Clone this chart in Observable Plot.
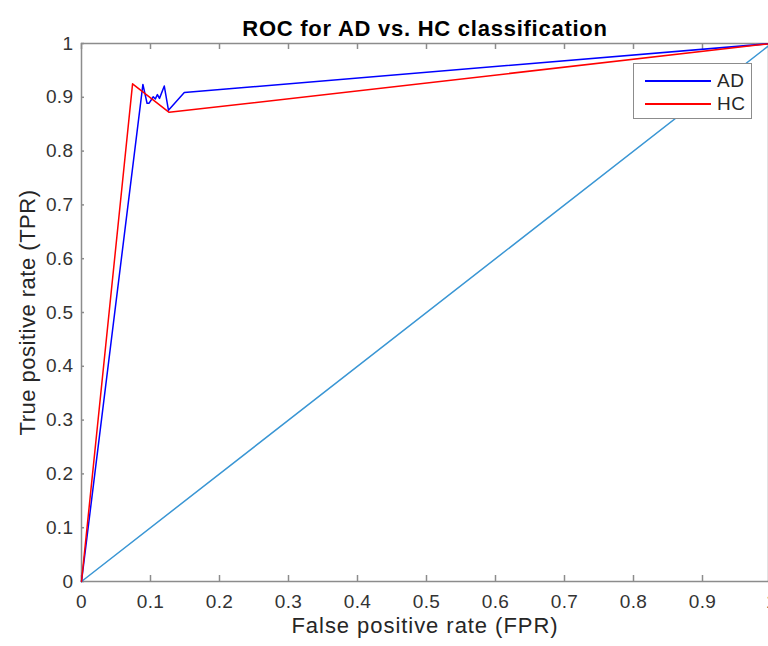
<!DOCTYPE html>
<html>
<head>
<meta charset="utf-8">
<script src="https://cdn.jsdelivr.net/npm/d3@7"></script>
<script src="https://cdn.jsdelivr.net/npm/@observablehq/plot@0.6"></script>
<style>
  html, body { margin: 0; padding: 0; overflow: hidden; background: #fff; }
  #wrap { position: relative; width: 768px; height: 646px; }
  #legend { position: absolute; left: 633px; top: 63px; width: 117px; height: 54px;
    border: 1.5px solid #8c8c8c; background: #fff; font-family: "Liberation Sans", Arial, sans-serif;
    font-size: 19px; color: #262626; letter-spacing: 0.5px; }
  #legend .row { position: absolute; left: 11px; height: 20px; display: flex; align-items: center; }
  #legend .sw { width: 66px; height: 0; border-top: 2px solid; margin-right: 6px; }
  .lblx text { letter-spacing: 0.95px; }
  .lbly text { letter-spacing: 0.5px; }
  .ttl text { letter-spacing: 0.75px; }
  .tk text { letter-spacing: 0.4px; }
</style>
</head>
<body>
<div id="wrap"></div>
<script>
const title = "ROC for AD vs. HC classification";
const xLabel = "False positive rate (FPR)";
const yLabel = "True positive rate (TPR)";
const ticks = [0, 0.1, 0.2, 0.3, 0.4, 0.5, 0.6, 0.7, 0.8, 0.9, 1];

const fprAD = [0, 0.089, 0.095, 0.098, 0.104, 0.107, 0.110, 0.113, 0.120, 0.126, 0.149, 1];
const tprAD = [0, 0.924, 0.889, 0.889, 0.901, 0.897, 0.905, 0.898, 0.921, 0.876, 0.909, 1];
const fprHC = [0, 0.074, 0.127, 1];
const tprHC = [0, 0.925, 0.872, 1];
const fprChance = [0, 1];
const tprChance = [0, 1];

const seriesNames = ["AD", "HC"];
const seriesColors = ["#0000ff", "#ff0000"];
const chanceColor = "#3a96d4";

const toRows = (xs, ys) => xs.map((x, i) => ({x, y: ys[i]}));
const ad = toRows(fprAD, tprAD);
const hc = toRows(fprHC, tprHC);
const chance = toRows(fprChance, tprChance);

const W = 768, H = 646;
const mL = 81, mT = 43, mB = 65;
const x0 = mL, x1 = 771;
const frameW = x1 - x0, frameH = H - mT - mB;
const axisColor = "#8c8c8c";
const font = "'Liberation Sans', Arial, sans-serif";
const fmt = d => String(Math.round(d * 10) / 10);

const chart = Plot.plot({
  width: W, height: H,
  marginLeft: mL, marginTop: mT, marginBottom: mB, marginRight: 0,
  x: {domain: [0, 1], range: [x0, x1]},
  y: {domain: [0, 1]},
  style: {fontFamily: font, background: "#fff", overflow: "visible"},
  marks: [
    Plot.frame({stroke: axisColor, strokeWidth: 1.5}),
    Plot.tickX(ticks, {x: d => d, stroke: axisColor, strokeWidth: 1.5, insetTop: frameH - 6}),
    Plot.tickX(ticks, {x: d => d, stroke: axisColor, strokeWidth: 1.5, insetBottom: frameH - 6}),
    Plot.tickY(ticks, {y: d => d, stroke: axisColor, strokeWidth: 1.5, insetRight: frameW - 6}),
    Plot.axisX(ticks, {tickSize: 0, tickPadding: 13, tickFormat: fmt, fontSize: 19, fill: "#333", label: null, className: "tk"}),
    Plot.axisY(ticks, {tickSize: 0, tickPadding: 8, tickFormat: fmt, fontSize: 19, fill: "#333", label: null, className: "tk"}),
    Plot.line(chance, {x: "x", y: "y", stroke: chanceColor, strokeWidth: 1.5}),
    Plot.line(ad, {x: "x", y: "y", stroke: seriesColors[0], strokeWidth: 1.5}),
    Plot.line(hc, {x: "x", y: "y", stroke: seriesColors[1], strokeWidth: 1.5}),
    Plot.text([title], {text: d => d, frameAnchor: "top", dy: -23, fontSize: 22, fontWeight: "bold", fill: "#000", className: "ttl"}),
    Plot.text([xLabel], {text: d => d, frameAnchor: "bottom", dy: 51, fontSize: 22, fill: "#262626", className: "lblx"}),
    Plot.text([yLabel], {text: d => d, frameAnchor: "left", textAnchor: "middle", dx: -54, rotate: -90, fontSize: 22, fill: "#262626", className: "lbly"})
  ]
});

const wrap = document.getElementById("wrap");
wrap.appendChild(chart);

const legend = document.createElement("div");
legend.id = "legend";
seriesNames.forEach((name, i) => {
  const row = document.createElement("div");
  row.className = "row";
  row.style.top = (7 + i * 23) + "px";
  const sw = document.createElement("div");
  sw.className = "sw";
  sw.style.borderTopColor = seriesColors[i];
  const t = document.createElement("span");
  t.textContent = name;
  row.appendChild(sw);
  row.appendChild(t);
  legend.appendChild(row);
});
wrap.appendChild(legend);
</script>
</body>
</html>
